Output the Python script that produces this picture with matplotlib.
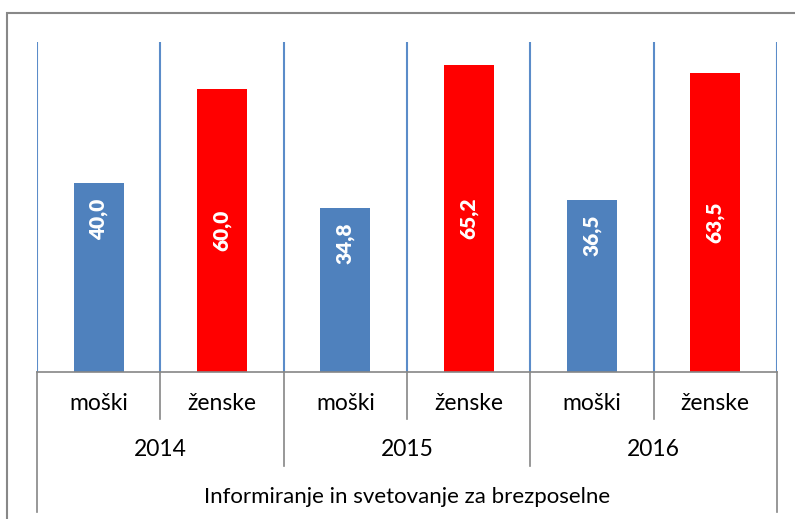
import matplotlib
matplotlib.use("Agg")
import matplotlib.pyplot as plt
from matplotlib.lines import Line2D
from matplotlib.patches import Rectangle

plt.rcParams['font.family'] = ['Lato', 'DejaVu Sans']

years = ["2014", "2015", "2016"]
genders = ["moški", "ženske"]
values = [40.0, 60.0, 34.8, 65.2, 36.5, 63.5]
value_labels = ["40,0", "60,0", "34,8", "65,2", "36,5", "63,5"]
title_label = "Informiranje in svetovanje za brezposelne"

BLUE = "#4F81BD"
RED = "#FF0000"
GRID = "#5B8CC9"
GRAY = "#868686"

W, H = 795, 519
fig = plt.figure(figsize=(W / 100, H / 100), dpi=100)

def fx(px):
    return px / W

def fy(py):
    return 1 - py / H

ax_left, ax_right, ax_top, ax_bot = 37, 777, 42, 372
ax = fig.add_axes([fx(ax_left), fy(ax_bot), fx(ax_right - ax_left), (ax_bot - ax_top) / H])
n = len(values)
xs = list(range(n))
colors = [BLUE if i % 2 == 0 else RED for i in range(n)]
bars = ax.bar(xs, values, width=0.405, color=colors, zorder=3)
ax.set_xlim(-0.5, n - 0.5)
ax.set_ylim(0, 70)
for b in [i - 0.5 for i in range(n + 1)]:
    ax.axvline(b, color=GRID, lw=1.5, zorder=1)
for s in ax.spines.values():
    s.set_visible(False)
ax.set_xticks([])
ax.set_yticks([])

# value labels
for i, (bar, v, lab) in enumerate(zip(bars, values, value_labels)):
    x = bar.get_x() + bar.get_width() / 2
    if i % 2 == 0:
        ax.annotate(lab, (x, v), xytext=(0, -15), textcoords="offset pixels",
                    rotation=90, ha="center", va="top", color="white",
                    fontsize=15, fontweight="heavy", zorder=4)
    else:
        ax.text(x, v / 2, lab, rotation=90, ha="center", va="center", color="white",
                fontsize=15, fontweight="heavy", zorder=4)

# baseline
fig.add_artist(Line2D([fx(ax_left), fx(ax_right)], [fy(ax_bot), fy(ax_bot)], color=GRAY, lw=1.2))

cw = (ax_right - ax_left) / n
for i in range(n + 1):
    xpx = ax_left + i * cw
    if i == 0 or i == n:
        end = 512
    elif i % 2 == 0:
        end = 466
    else:
        end = 419
    fig.add_artist(Line2D([fx(xpx), fx(xpx)], [fy(ax_bot), fy(end)], color=GRAY, lw=1.2))

lab_fs = 16.5
for i in range(n):
    xc = ax_left + (i + 0.5) * cw
    fig.text(fx(xc), fy(403), genders[i % 2], ha="center", va="center", fontsize=lab_fs)
for j, yr in enumerate(years):
    xc = ax_left + (j + 0.5) * 2 * cw
    fig.text(fx(xc), fy(450), yr, ha="center", va="center", fontsize=lab_fs)
fig.text(fx((ax_left + ax_right) / 2), fy(497), title_label, ha="center", va="center", fontsize=16)

# outer border
fig.add_artist(Rectangle((fx(7), fy(540)), fx(820), (540 - 13) / H, transform=fig.transFigure,
                         fill=False, edgecolor="#888888", lw=1.5, clip_on=False))

fig.savefig("out.png", dpi=100)
